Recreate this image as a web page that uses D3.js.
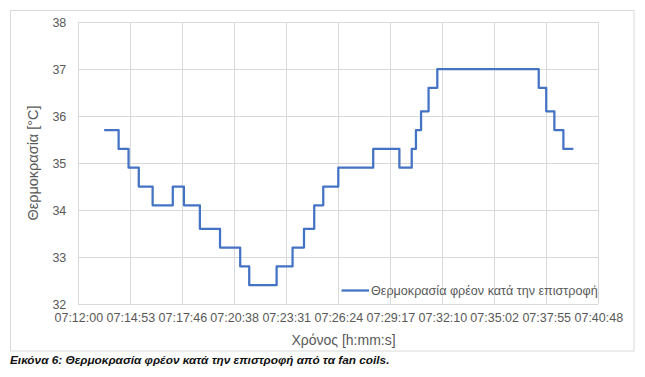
<!DOCTYPE html>
<html>
<head>
<meta charset="utf-8">
<script src="https://cdn.jsdelivr.net/npm/d3@7/dist/d3.min.js"></script>
<style>
  html, body { margin: 0; padding: 0; background: #fff; }
  svg { display: block; }
  text { font-family: "Liberation Sans", Arial, sans-serif; }
</style>
</head>
<body>
<svg id="chart" width="645" height="377"></svg>
<script>
// ---- data ----
const xTickLabels = ["07:12:00","07:14:53","07:17:46","07:20:38","07:23:31","07:26:24","07:29:17","07:32:10","07:35:02","07:37:55","07:40:48"];
const yTickValues = [32, 33, 34, 35, 36, 37, 38];
const times = ["07:13:26","07:14:14","07:14:47","07:15:21","07:16:07","07:17:14","07:17:51","07:18:44","07:19:51","07:20:58","07:21:28","07:22:59","07:23:52","07:24:30","07:25:04","07:25:34","07:26:24","07:28:20","07:29:47","07:30:28","07:30:42","07:30:59","07:31:24","07:31:53","07:37:30","07:37:55","07:38:22","07:38:52","07:39:25"];
const temps = [35.7,35.3,34.9,34.5,34.1,34.5,34.1,33.6,33.2,32.8,32.4,32.8,33.2,33.6,34.1,34.5,34.9,35.3,34.9,35.3,35.7,36.1,36.6,37.0,36.6,36.1,35.7,35.3,35.3];
const seriesName = "Θερμοκρασία φρέον κατά την επιστροφή";
const xTitle = "Χρόνος [h:mm:s]";
const yTitle = "Θερμοκρασία [°C]";
const caption = "Εικόνα 6: Θερμοκρασία φρέον κατά την επιστροφή από τα fan coils.";

// ---- layout ----
const parse = d3.timeParse("%H:%M:%S");
const svg = d3.select("#chart");
const pLeft = 78.3, pRight = 598.3, pTop = 22, pBottom = 304;
const grid = "#D9D9D9", textCol = "#595959";

const x = d3.scaleTime()
  .domain([parse(xTickLabels[0]), parse(xTickLabels[xTickLabels.length - 1])])
  .range([pLeft, pRight]);
const y = d3.scaleLinear().domain([32, 38]).range([pBottom, pTop]);

// chart border
svg.append("rect").attr("x", 10.5).attr("y", 10.5).attr("width", 623.5).attr("height", 340.5)
  .attr("fill", "none").attr("stroke", grid).attr("stroke-width", 1);

// horizontal gridlines + y labels
const yAxis = d3.axisLeft(y).tickValues(yTickValues).tickSize(-(pRight - pLeft)).tickPadding(12).tickFormat(d3.format("d"));
const gy = svg.append("g").attr("transform", `translate(${pLeft},0)`).call(yAxis);
gy.select(".domain").remove();
gy.selectAll(".tick line").attr("stroke", grid).attr("shape-rendering", "crispEdges");
gy.selectAll(".tick text").attr("fill", textCol).attr("font-size", "12.5px")
  .attr("font-family", "Liberation Sans, Arial, sans-serif");

// vertical gridlines + x labels
const xTicks = xTickLabels.map(parse);
const xAxis = d3.axisBottom(x).tickValues(xTicks).tickSize(-(pBottom - pTop)).tickPadding(9)
  .tickFormat((d, i) => xTickLabels[i]);
const gx = svg.append("g").attr("transform", `translate(0,${pBottom})`).call(xAxis);
gx.select(".domain").remove();
gx.selectAll(".tick line").attr("stroke", grid).attr("shape-rendering", "crispEdges");
gx.selectAll(".tick text").attr("fill", textCol).attr("font-size", "12.5px")
  .attr("font-family", "Liberation Sans, Arial, sans-serif");

// series line
const pts = times.map((t, i) => [parse(t), temps[i]]);
const line = d3.line().x(d => x(d[0])).y(d => y(d[1])).curve(d3.curveStepAfter);
svg.append("path").datum(pts).attr("d", line)
  .attr("fill", "none").attr("stroke", "#4472C4").attr("stroke-width", 2.25)
  .attr("stroke-linejoin", "round");

// axis titles
svg.append("text").attr("x", 343.5).attr("y", 344.5).attr("text-anchor", "middle")
  .attr("fill", textCol).attr("font-size", "14px").text(xTitle);
svg.append("text").attr("transform", "translate(38,163) rotate(-90)").attr("text-anchor", "middle")
  .attr("fill", textCol).attr("font-size", "14.5px").text(yTitle);

// legend
svg.append("line").attr("x1", 341.5).attr("x2", 369).attr("y1", 290.5).attr("y2", 290.5)
  .attr("stroke", "#4472C4").attr("stroke-width", 2.25);
svg.append("text").attr("x", 371).attr("y", 295).attr("fill", textCol).attr("font-size", "12.6px")
  .text(seriesName);

// caption
svg.append("text").attr("x", 10).attr("y", 364).attr("fill", "#111").attr("font-size", "11.8px")
  .attr("font-weight", "bold").attr("font-style", "italic").text(caption);
</script>
</body>
</html>
